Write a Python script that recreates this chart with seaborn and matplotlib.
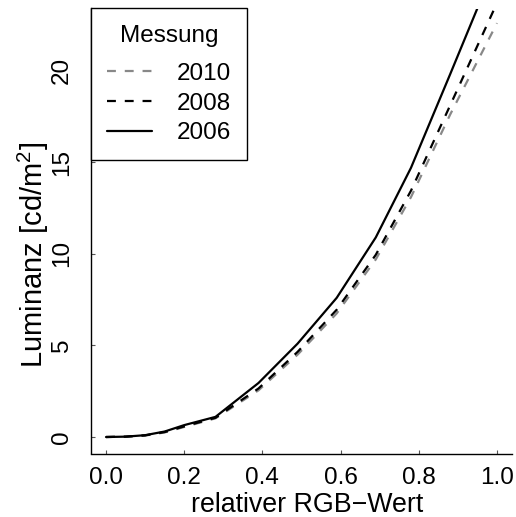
import numpy as np
import pandas as pd
import matplotlib
matplotlib.use("Agg")
import matplotlib.pyplot as plt
import seaborn as sns

# Relative RGB value and measured luminance (cd/m^2) for three measurement years
rgb = [0.0, 0.05, 0.10, 0.15, 0.20, 0.28, 0.39, 0.49, 0.59, 0.69, 0.78, 0.88, 1.00]
lum_2006 = [0.0, 0.02, 0.10, 0.30, 0.65, 1.10, 2.95, 5.10, 7.60, 10.90, 14.70, 19.80, 26.00]
lum_2008 = [0.0, 0.02, 0.09, 0.27, 0.58, 1.05, 2.65, 4.65, 6.95, 9.95, 13.45, 18.10, 23.70]
lum_2010 = [0.0, 0.02, 0.08, 0.25, 0.55, 1.02, 2.55, 4.50, 6.75, 9.70, 13.10, 17.60, 22.60]
years = ["2010", "2008", "2006"]

df = pd.concat([
    pd.DataFrame({"rgb": rgb, "lum": vals, "Messung": yr})
    for yr, vals in zip(years, [lum_2010, lum_2008, lum_2006])
], ignore_index=True)

sns.set_style("ticks")
plt.rcParams["font.family"] = ["Liberation Sans", "DejaVu Sans"]
plt.rcParams["mathtext.fontset"] = "custom"
plt.rcParams["mathtext.rm"] = "Liberation Sans"
plt.rcParams["mathtext.it"] = "Liberation Sans"
for key in ["text.color", "axes.labelcolor", "xtick.labelcolor", "ytick.labelcolor"]:
    plt.rcParams[key] = "black"

W, H = 516, 517
fig = plt.figure(figsize=(W / 100, H / 100), dpi=100)
left, right, bottom, top = 91, 512, 453.5, 8.5
ax = fig.add_axes([left / W, 1 - bottom / H, (right - left) / W, (bottom - top) / H])

palette = {"2010": "#888888", "2008": "black", "2006": "black"}
dashes = {"2010": (4, 4), "2008": (4, 4), "2006": ""}
sns.lineplot(data=df, x="rgb", y="lum", hue="Messung", style="Messung",
             hue_order=years, style_order=years, palette=palette, dashes=dashes,
             linewidth=1.6, ax=ax, legend=True, sort=False)

ax.set_xlim(-0.0384, 1.0384)
ax.set_ylim(-0.9, 23.4)
ax.set_xticks([0.0, 0.2, 0.4, 0.6, 0.8, 1.0])
ax.set_xticklabels(["0.0", "0.2", "0.4", "0.6", "0.8", "1.0"])
ax.set_yticks([0, 5, 10, 15, 20])
ax.set_yticklabels(["0", "5", "10", "15", "20"], rotation=90, va="center")

fs_tick = 17.5
fs_xlab = 19.3
fs_ylab = 21
ax.tick_params(direction="in", length=2.6, width=0.8, labelsize=fs_tick,
               color="#555555", labelcolor="black")
ax.tick_params(axis="x", pad=10.0)
ax.tick_params(axis="y", pad=13.0)
for s in ["top", "right"]:
    ax.spines[s].set_visible(False)
for s in ["left", "bottom"]:
    ax.spines[s].set_linewidth(1.0)
    ax.spines[s].set_color("black")

ax.set_xlabel("relativer RGB\u2212Wert", fontsize=fs_xlab, color="black")
ax.set_ylabel("Luminanz [cd/m$^2$]", fontsize=fs_ylab, color="black")
ax.xaxis.set_label_coords(0.514, -0.087)
ax.yaxis.set_label_coords(-0.094, 0.445)

leg = ax.legend(title="Messung", loc="upper left", bbox_to_anchor=(0, 1),
                borderaxespad=0, fancybox=False, frameon=True, fontsize=fs_tick,
                title_fontsize=fs_tick, handlelength=1.85, handletextpad=1.0,
                labelspacing=0.31, borderpad=0.66, labelcolor="black")
leg._legend_box.sep = 0.31 * fs_tick + 6.4
leg.get_title().set_color("black")
leg.get_frame().set_edgecolor("black")
leg.get_frame().set_linewidth(1.0)
leg.get_frame().set_alpha(1)
for h in leg.get_lines():
    h.set_linewidth(1.6)

fig.savefig("out.png", dpi=100)
